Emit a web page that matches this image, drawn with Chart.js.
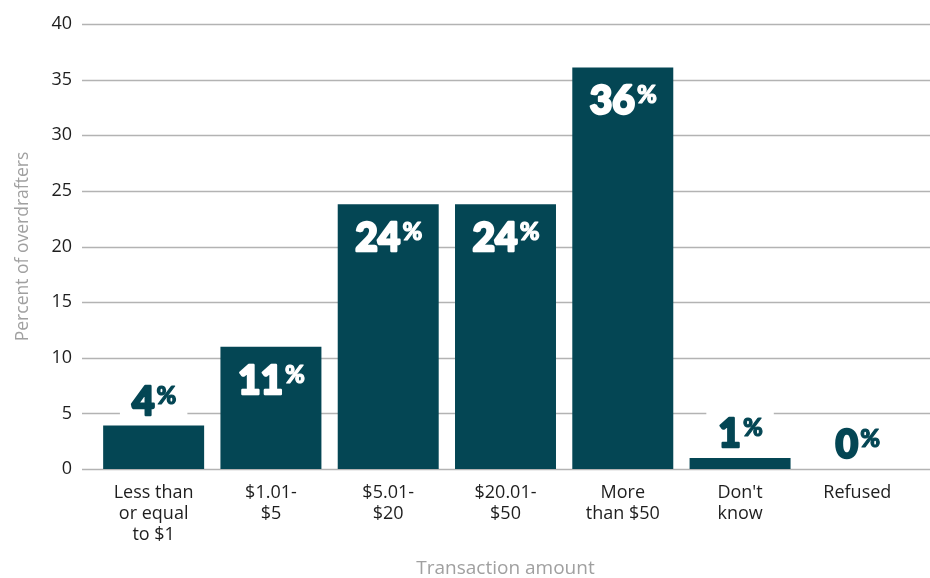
<!DOCTYPE html>
<html>
<head>
<meta charset="utf-8">
<script src="https://cdn.jsdelivr.net/npm/chart.js@4/dist/chart.umd.min.js"></script>
<style>
html, body { margin: 0; padding: 0; background: #fff; }
#wrap { width: 930px; height: 578px; }
</style>
</head>
<body>
<div id="wrap"><canvas id="overdraftChart" width="930" height="578"></canvas></div>
<script>
// chart data
var categories = [
    ["Less than", "or equal", "to $1"],
    ["$1.01-", "$5"],
    ["$5.01-", "$20"],
    ["$20.01-", "$50"],
    ["More", "than $50"],
    ["Don't", "know"],
    ["Refused"]
];
var percents = [3.9, 11, 23.8, 23.8, 36.1, 1, 0];
var percentLabels = ["4", "11", "24", "24", "36", "1", "0"];
var yMin = 0;
var yMax = 40;
var yStep = 5;

var barColor = "#044654";
var labelFont = "Lato";

// long gray gridlines that run past the plot area, behind the bars
var longGrid = {
    id: 'longGrid',
    beforeDatasetsDraw: function (chart) {
        var ctx = chart.ctx;
        var y = chart.scales.y;
        ctx.save();
        ctx.strokeStyle = "#b3b3b3";
        ctx.lineWidth = 1.5;
        y.ticks.forEach(function (t) {
            var py = Math.round(y.getPixelForValue(t.value)) + 0.5;
            ctx.beginPath();
            ctx.moveTo(chart.chartArea.left - 13, py);
            ctx.lineTo(chart.width, py);
            ctx.stroke();
        });
        ctx.restore();
    }
};

// big "NN%" labels, inside the tall bars and above the short ones
var barLabels = {
    id: 'barLabels',
    afterDatasetsDraw: function (chart) {
        var ctx = chart.ctx;
        var meta = chart.getDatasetMeta(0);
        ctx.save();
        ctx.textBaseline = "alphabetic";
        ctx.textAlign = "left";
        ctx.lineJoin = "round";
        meta.data.forEach(function (bar, i) {
            var inside = percents[i] >= 8;
            var col = inside ? "#fff" : barColor;
            ctx.font = "900 39px " + labelFont;
            var numW = ctx.measureText(percentLabels[i]).width + 2;
            ctx.font = "900 24px " + labelFont;
            var pctW = ctx.measureText("%").width;
            var total = numW + 1 + pctW;
            var x0 = bar.x - total / 2;
            var base = inside ? bar.y + 47 : bar.y - 11;
            if (!inside) {
                ctx.fillStyle = "#fff";
                ctx.fillRect(x0 - 11, base - 36, total + 22, 42);
            }
            ctx.fillStyle = col;
            ctx.strokeStyle = col;
            ctx.font = "900 39px " + labelFont;
            ctx.lineWidth = 2.4;
            ctx.fillText(percentLabels[i], x0 + 1, base);
            ctx.strokeText(percentLabels[i], x0 + 1, base);
            ctx.font = "900 24px " + labelFont;
            ctx.lineWidth = 1.2;
            ctx.fillText("%", x0 + numW + 1, base - 11);
            ctx.strokeText("%", x0 + numW + 1, base - 11);
        });
        ctx.restore();
    }
};

new Chart("overdraftChart", {
    type: "bar",
    data: {
        labels: categories,
        datasets: [{
            label: "Percent of overdrafters",
            data: percents,
            backgroundColor: barColor,
            borderWidth: 0,
            categoryPercentage: 1.0,
            barPercentage: 0.861
        }]
    },
    options: {
        responsive: false,
        animation: false,
        devicePixelRatio: 1,
        layout: {
            padding: { top: 24, right: 14, bottom: 0, left: 0 }
        },
        plugins: {
            legend: { display: false },
            tooltip: { enabled: false }
        },
        scales: {
            y: {
                min: yMin,
                max: yMax,
                grid: { display: false, drawTicks: false },
                border: { display: false },
                ticks: {
                    stepSize: yStep,
                    padding: 23,
                    color: "#1e1e1e",
                    font: { family: "Open Sans", size: 18 }
                },
                title: {
                    display: true,
                    text: "Percent of overdrafters",
                    color: "#a0a0a0",
                    font: { family: "Open Sans", size: 17.5 },
                    padding: { top: 13, bottom: 0 }
                },
                afterFit: function (scale) {
                    scale.width = 95;
                    scale.paddingTop = 0;
                    scale.paddingBottom = 0;
                }
            },
            x: {
                grid: { display: false, drawTicks: false },
                border: { display: false },
                ticks: {
                    autoSkip: false,
                    maxRotation: 0,
                    padding: 13,
                    color: "#1e1e1e",
                    font: { family: "Open Sans", size: 18, lineHeight: 1.17 }
                },
                title: {
                    display: true,
                    text: "Transaction amount",
                    color: "#a0a0a0",
                    font: { family: "Open Sans", size: 19, lineHeight: 1.0 },
                    padding: 0
                },
                afterFit: function (scale) { scale.height = 109; }
            }
        }
    },
    plugins: [longGrid, barLabels]
});
</script>
</body>
</html>
